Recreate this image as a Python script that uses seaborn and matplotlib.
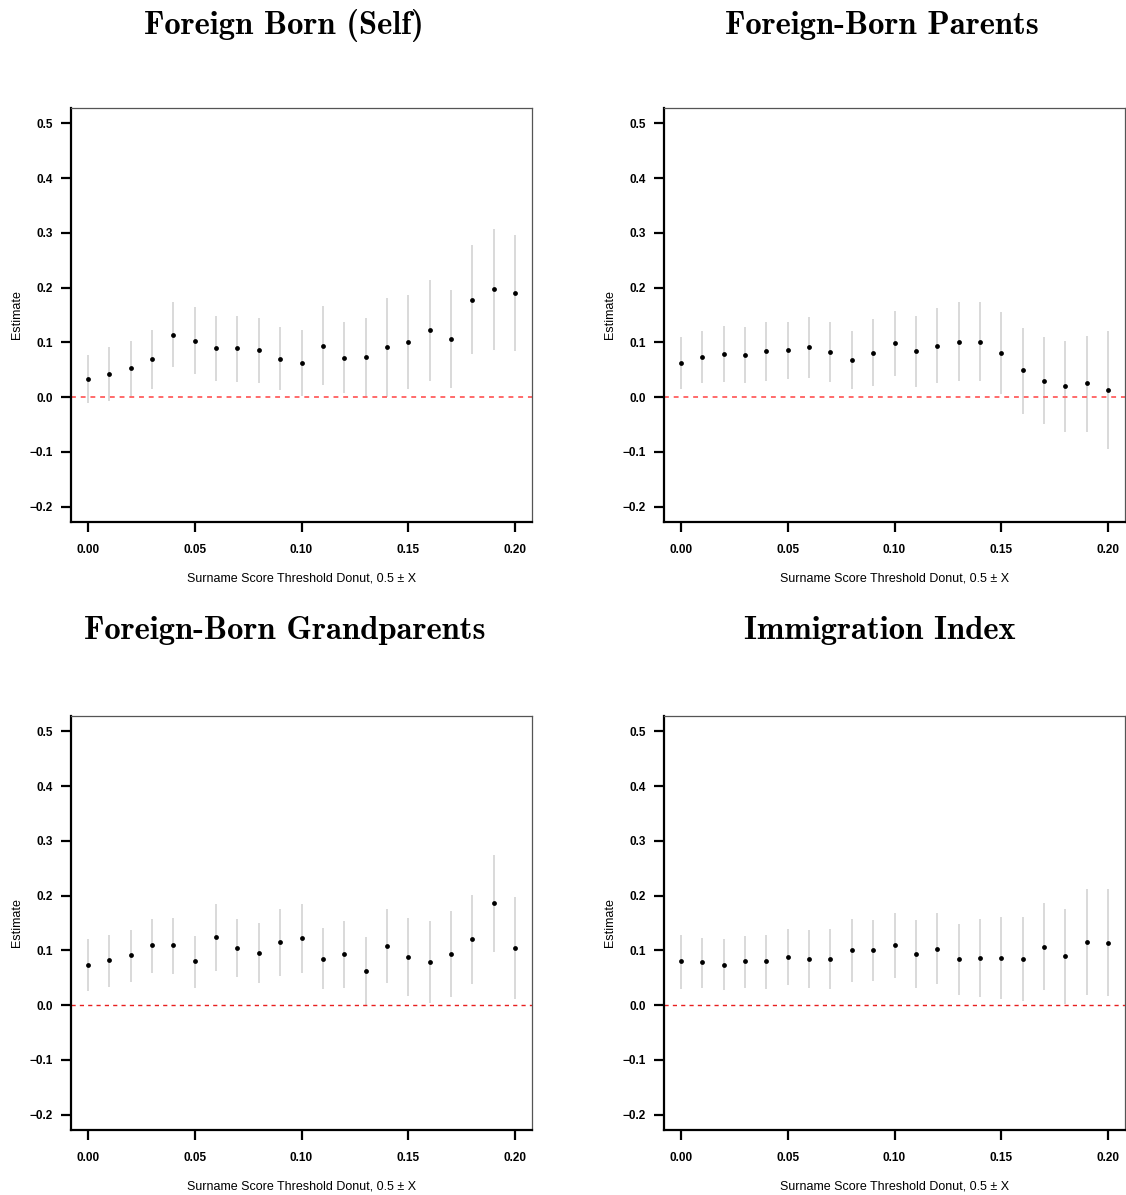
import numpy as np
import pandas as pd
import seaborn as sns
import matplotlib.pyplot as plt

# donut thresholds
thresholds = [0.00, 0.01, 0.02, 0.03, 0.04, 0.05, 0.06, 0.07, 0.08, 0.09, 0.10,
              0.11, 0.12, 0.13, 0.14, 0.15, 0.16, 0.17, 0.18, 0.19, 0.20]

# Foreign Born (Self)
self_est = [0.033, 0.043, 0.053, 0.069, 0.114, 0.103, 0.089, 0.089, 0.086, 0.070, 0.063,
            0.094, 0.072, 0.074, 0.091, 0.100, 0.123, 0.106, 0.178, 0.197, 0.191]
self_hi = [0.077, 0.092, 0.103, 0.122, 0.173, 0.164, 0.148, 0.149, 0.145, 0.128, 0.122,
           0.167, 0.138, 0.144, 0.181, 0.187, 0.214, 0.196, 0.278, 0.307, 0.297]
self_lo = [-0.010, -0.007, 0.001, 0.015, 0.055, 0.043, 0.030, 0.027, 0.026, 0.013, 0.003,
           0.022, 0.007, 0.002, 0.000, 0.015, 0.030, 0.016, 0.078, 0.087, 0.085]

# Foreign-Born Parents
par_est = [0.063, 0.074, 0.078, 0.077, 0.084, 0.086, 0.091, 0.083, 0.067, 0.081, 0.098,
           0.084, 0.094, 0.101, 0.101, 0.081, 0.049, 0.030, 0.021, 0.025, 0.013]
par_hi = [0.110, 0.121, 0.130, 0.128, 0.137, 0.137, 0.146, 0.138, 0.121, 0.143, 0.157,
          0.149, 0.163, 0.173, 0.173, 0.156, 0.127, 0.109, 0.103, 0.112, 0.121]
par_lo = [0.015, 0.026, 0.027, 0.025, 0.030, 0.034, 0.035, 0.027, 0.015, 0.020, 0.039,
          0.019, 0.025, 0.030, 0.030, 0.005, -0.030, -0.049, -0.063, -0.064, -0.095]

# Foreign-Born Grandparents
gp_est = [0.074, 0.082, 0.091, 0.109, 0.109, 0.080, 0.124, 0.105, 0.095, 0.115, 0.122,
          0.085, 0.093, 0.063, 0.108, 0.088, 0.079, 0.093, 0.120, 0.186, 0.105]
gp_hi = [0.121, 0.129, 0.138, 0.158, 0.160, 0.127, 0.185, 0.158, 0.150, 0.176, 0.185,
         0.140, 0.154, 0.124, 0.175, 0.159, 0.154, 0.172, 0.201, 0.275, 0.197]
gp_lo = [0.026, 0.034, 0.043, 0.059, 0.057, 0.032, 0.063, 0.051, 0.040, 0.054, 0.058,
         0.030, 0.032, 0.001, 0.041, 0.017, 0.004, 0.014, 0.039, 0.097, 0.012]

# Immigration Index
idx_est = [0.080, 0.078, 0.074, 0.080, 0.080, 0.088, 0.085, 0.084, 0.100, 0.100, 0.109,
           0.094, 0.103, 0.084, 0.086, 0.087, 0.084, 0.107, 0.089, 0.116, 0.114]
idx_hi = [0.128, 0.123, 0.120, 0.127, 0.128, 0.139, 0.137, 0.139, 0.157, 0.155, 0.168,
          0.155, 0.168, 0.149, 0.157, 0.161, 0.161, 0.186, 0.175, 0.213, 0.213]
idx_lo = [0.030, 0.032, 0.028, 0.032, 0.030, 0.036, 0.032, 0.029, 0.043, 0.045, 0.050,
          0.032, 0.038, 0.019, 0.015, 0.012, 0.007, 0.028, 0.002, 0.019, 0.016]

titles = ["Foreign Born (Self)", "Foreign-Born Parents",
          "Foreign-Born Grandparents", "Immigration Index"]
x_ticks = [0.00, 0.05, 0.10, 0.15, 0.20]
x_ticklabels = ["0.00", "0.05", "0.10", "0.15", "0.20"]
y_ticks = [-0.2, -0.1, 0.0, 0.1, 0.2, 0.3, 0.4, 0.5]
y_ticklabels = ["\u22120.2", "\u22120.1", "0.0", "0.1", "0.2", "0.3", "0.4", "0.5"]

panels = [(self_est, self_lo, self_hi), (par_est, par_lo, par_hi),
          (gp_est, gp_lo, gp_hi), (idx_est, idx_lo, idx_hi)]

sns.set_style("white")
plt.rcParams['font.family'] = ['Liberation Sans', 'DejaVu Sans']
plt.rcParams['text.color'] = 'black'
plt.rcParams['axes.labelcolor'] = 'black'
plt.rcParams['xtick.color'] = 'black'
plt.rcParams['ytick.color'] = 'black'

W, H = 1126, 1195
fig = plt.figure(figsize=(W / 100, H / 100), dpi=100)

# axes boxes in pixels: left, top
boxes = [(71, 108), (664, 108), (71, 716), (664, 716)]
title_pos = [(284, 25), (882, 25), (285, 631), (880, 631)]
aw, ah = 461, 414
zero_style = [dict(color="#ff6a6a", lw=1.4, dashes=(2.5, 2.5)),
              dict(color="#ff6a6a", lw=1.4, dashes=(2.5, 2.5)),
              dict(color="#e82020", lw=1.0, dashes=(3, 3)),
              dict(color="#e82020", lw=1.0, dashes=(3, 3))]

for i, ((est, lo, hi), (bl, bt)) in enumerate(zip(panels, boxes)):
    ax = fig.add_axes([bl / W, 1 - (bt + ah) / H, aw / W, ah / H])
    df = pd.DataFrame({"x": thresholds, "est": est, "lo": lo, "hi": hi})

    ax.vlines(df["x"], df["lo"], df["hi"], color="#d9d9d9", lw=1.4, zorder=1)
    ax.axhline(0, **zero_style[i], zorder=2)
    sns.scatterplot(data=df, x="x", y="est", ax=ax, color="black", s=12,
                    edgecolor="black", linewidth=0, zorder=3, legend=False)

    ax.set_xlim(-0.008, 0.208)
    ax.set_ylim(-0.228, 0.528)
    ax.set_xticks(x_ticks)
    ax.set_xticklabels(x_ticklabels, fontweight="bold", fontsize=8.5)
    ax.set_yticks(y_ticks)
    ax.set_yticklabels(y_ticklabels, fontweight="bold", fontsize=8.5)
    ax.tick_params(axis="both", direction="out", length=7, width=1.6,
                   color="black", left=True, bottom=True)
    ax.tick_params(axis="x", pad=9)
    ax.tick_params(axis="y", pad=6)
    ax.set_xlabel("Surname Score Threshold Donut, 0.5 \u00b1 X", fontsize=9, labelpad=12)
    ax.set_ylabel("Estimate", fontsize=9, labelpad=5)

    for side in ["left", "bottom"]:
        ax.spines[side].set_color("black")
        ax.spines[side].set_linewidth(1.6)
    for side in ["top", "right"]:
        ax.spines[side].set_color("#555555")
        ax.spines[side].set_linewidth(0.9)

    tx, ty = title_pos[i]
    fig.text(tx / W, 1 - ty / H, titles[i], ha="center", va="center",
             family=["cmb10", "DejaVu Serif"], fontsize=23.5)

fig.savefig("out.png", dpi=100)
